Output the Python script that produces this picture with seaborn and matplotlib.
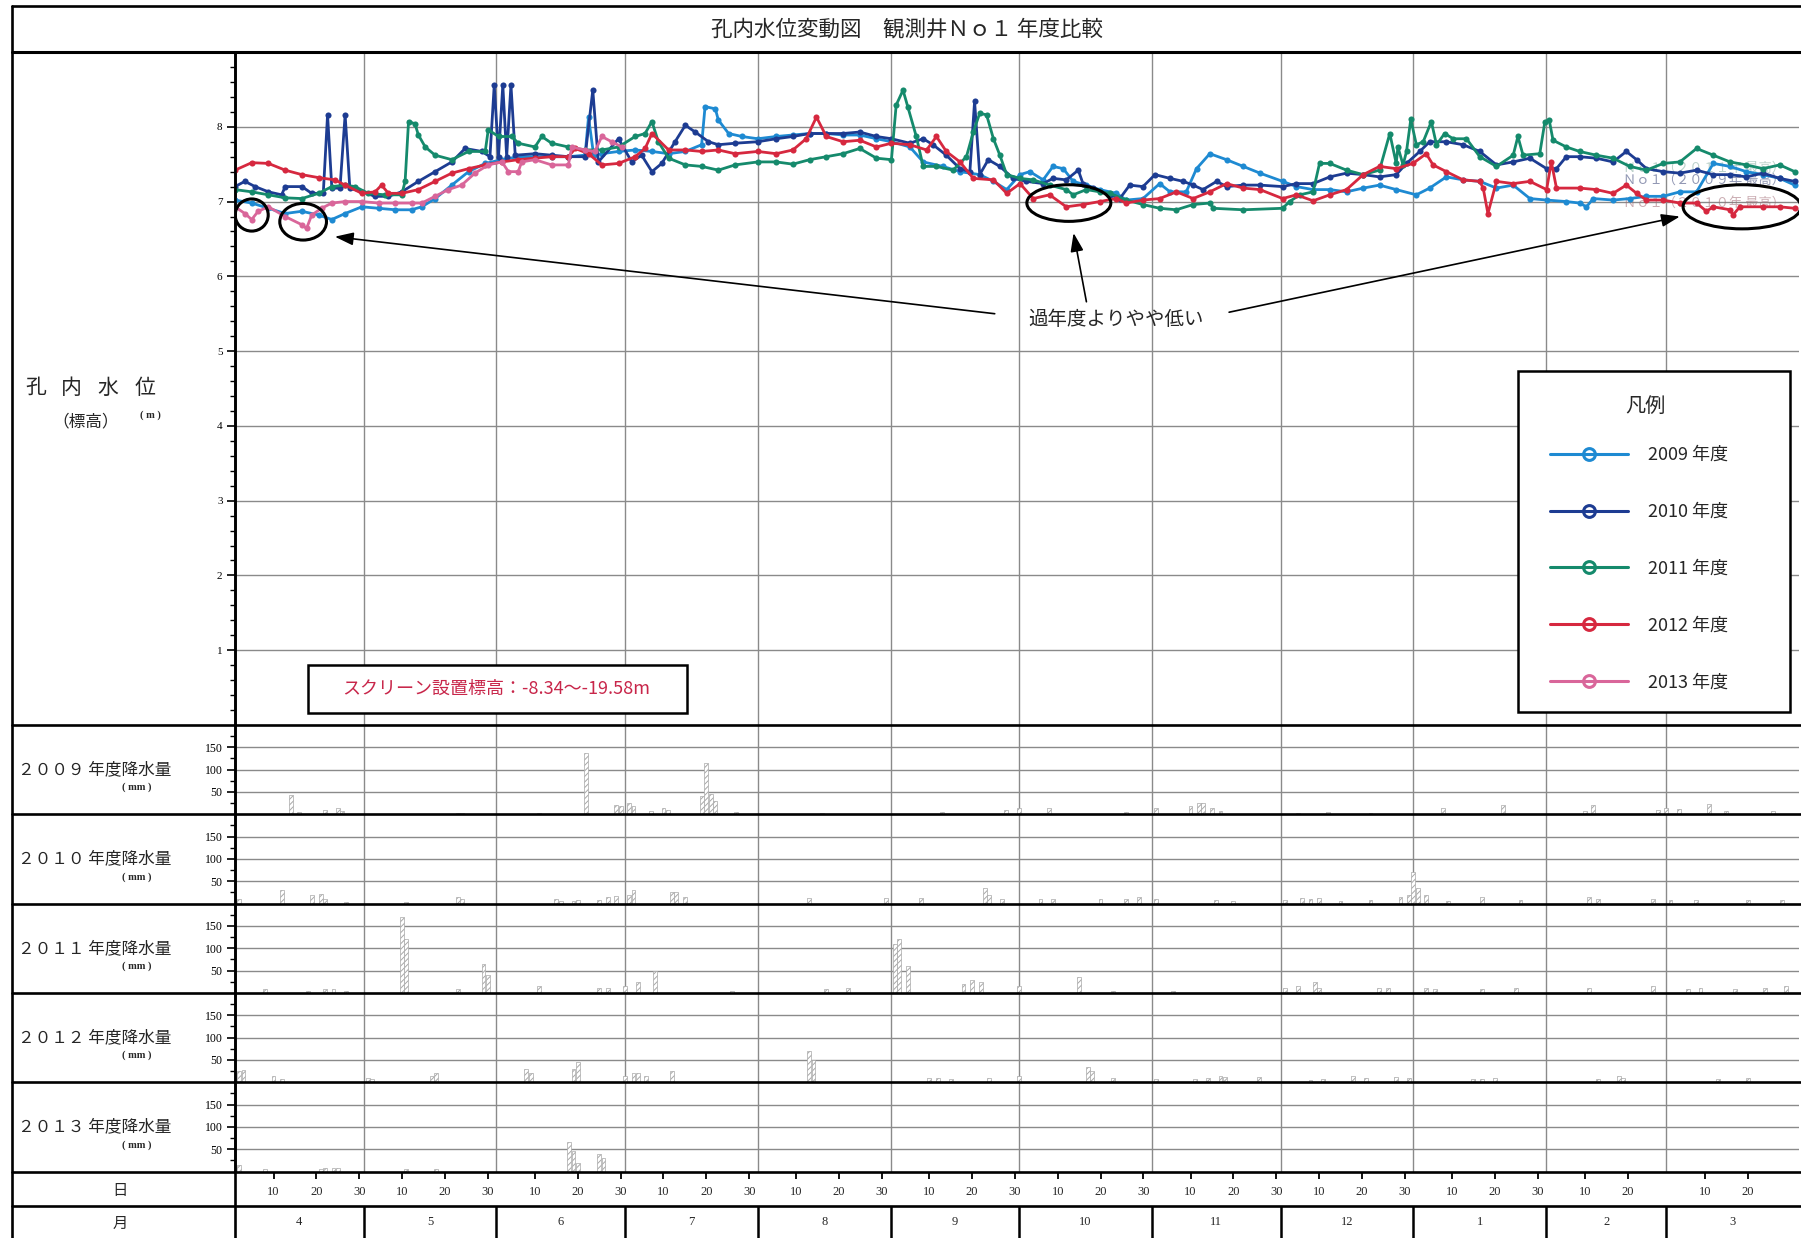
import numpy as np
import pandas as pd
import matplotlib
matplotlib.use("Agg")
import matplotlib.pyplot as plt
from matplotlib.lines import Line2D
from matplotlib.patches import Ellipse, Rectangle
import seaborn as sns

# ---------------- data ----------------
YEARS = ["2009", "2010", "2011", "2012", "2013"]
COLORS = {"2009": "#1e8ad2", "2010": "#1d3c92", "2011": "#158a6c",
          "2012": "#d6283f", "2013": "#d9669a"}

MONTH_LABELS = ["4", "5", "6", "7", "8", "9", "10", "11", "12", "1", "2", "3"]
MONTH_LENGTHS = [30, 31, 30, 31, 31, 30, 31, 30, 31, 31, 28, 31]
DAY_TICKS = [10, 20, 30]

# water level (m) : (days since Apr 1, level)
level_2009 = [
    (0, 7.02), (3.9, 6.98), (7.8, 6.91), (11.7, 6.84), (15.6, 6.87), (19.5, 6.82), (22.6, 6.76), (25.7, 6.84),
    (29.6, 6.93), (33.5, 6.91), (37.4, 6.89), (41.2, 6.89), (43.6, 6.93), (46.7, 7.04), (50.6, 7.22), (54.5, 7.40),
    (58.4, 7.51), (62.3, 7.56), (66.1, 7.60), (70, 7.60), (73.9, 7.60), (77.8, 7.60), (81.7, 7.62), (82.5, 8.13),
    (83.7, 7.62), (85.6, 7.64), (89.5, 7.67), (93.4, 7.69), (97.3, 7.67), (101.2, 7.64), (105.1, 7.67), (108.9, 7.76),
    (109.7, 8.27), (112.1, 8.24), (112.8, 8.09), (115.2, 7.91), (118.3, 7.87), (122, 7.84),
    (126.3, 7.87), (130.2, 7.89), (134.1, 7.91), (138, 7.91), (141.9, 7.89), (145.8, 7.89), (149.7, 7.84),
    (153.2, 7.80), (157.5, 7.73), (160.6, 7.53), (165.2, 7.47), (169.2, 7.40), (173.8, 7.36), (177, 7.27),
    (180.1, 7.16), (183.2, 7.36), (185.5, 7.40), (188.6, 7.29), (190.9, 7.47), (193.3, 7.44), (195.6, 7.27),
    (198.7, 7.22), (201.8, 7.16), (205.7, 7.11), (208, 7.02), (211.9, 7.04), (215.8, 7.24), (218.2, 7.13),
    (222, 7.13), (224.4, 7.44), (227.5, 7.64), (231.4, 7.56), (235.3, 7.47), (239.2, 7.38), (244.5, 7.27),
    (247.7, 7.20), (251.6, 7.16), (255.5, 7.16), (259.4, 7.13), (263.3, 7.18), (267.1, 7.22), (271, 7.16),
    (275.7, 7.09), (278.8, 7.18), (282.7, 7.33), (286.6, 7.29), (290.5, 7.27), (294.4, 7.18), (298.3, 7.22),
    (302.2, 7.04), (306.1, 7.02), (310.7, 7.00), (313.8, 6.98), (315.4, 6.93), (317, 7.04), (321.6, 7.02),
    (325.5, 7.04), (329.4, 7.07), (333.3, 7.07), (337.2, 7.13), (341.1, 7.13), (345, 7.51), (348.9, 7.47),
    (352.7, 7.40), (356.6, 7.36), (360.5, 7.31), (364, 7.22),
]
level_2010 = [
    (0, 7.20), (2.3, 7.27), (4.7, 7.20), (7.8, 7.13), (10.9, 7.09), (11.7, 7.20), (15.6, 7.20), (17.9, 7.11),
    (20.6, 7.11), (21.6, 8.16), (22.6, 7.18), (24.5, 7.18), (25.7, 8.16), (26.8, 7.18), (29.6, 7.13), (32.7, 7.07),
    (35.8, 7.07), (38.9, 7.13), (42.8, 7.27), (46.7, 7.40), (50.6, 7.53), (53.7, 7.71), (57.6, 7.67), (59.5, 7.60),
    (60.5, 8.56), (61.5, 7.60), (62.5, 8.56), (63.4, 7.60), (64.4, 8.56), (65.4, 7.62), (70, 7.64), (73.9, 7.62),
    (77.8, 7.60), (81.7, 7.60), (83.5, 8.49), (84.8, 7.53), (89.5, 7.84), (92.6, 7.53), (94.9, 7.62), (97.3, 7.40),
    (99.6, 7.51), (102.7, 7.80), (105.1, 8.02), (107.4, 7.93), (110.5, 7.80), (112.8, 7.76), (116.7, 7.78), (122, 7.80),
    (126.3, 7.84), (130.2, 7.87), (134.1, 7.91), (138, 7.91), (141.9, 7.91), (145.8, 7.93), (149.7, 7.87),
    (153.2, 7.84), (157.5, 7.78), (160.6, 7.84), (162.9, 7.76), (166, 7.62), (169.2, 7.44), (171.5, 7.40),
    (172.6, 8.34), (173.8, 7.36), (175.8, 7.56), (178.5, 7.47), (181.6, 7.31), (184.7, 7.27), (188.6, 7.24),
    (190.9, 7.31), (194, 7.29), (196.8, 7.42), (197.9, 7.24), (200.3, 7.18), (204.2, 7.09), (206.5, 7.04),
    (208.8, 7.22), (211.9, 7.20), (214.7, 7.36), (218.2, 7.31), (221.3, 7.27), (223.6, 7.22), (225.9, 7.16),
    (229.1, 7.27), (231.4, 7.20), (235.3, 7.22), (239.2, 7.22), (244.5, 7.20),
    (247.7, 7.24), (251.6, 7.24), (255.5, 7.33), (259.4, 7.38), (263.3, 7.36), (267.1, 7.33), (271, 7.36),
    (273.4, 7.51), (276.5, 7.67), (278.8, 7.80), (282.7, 7.80), (286.6, 7.76), (290.5, 7.67), (294.4, 7.49),
    (298.3, 7.53), (302.2, 7.58), (306.1, 7.44), (308.4, 7.44), (310.7, 7.60), (313.8, 7.60), (317.7, 7.58),
    (321.6, 7.53), (324.7, 7.67), (327.1, 7.56), (329.4, 7.44), (333.3, 7.40), (337.2, 7.38), (341.1, 7.42),
    (345, 7.36), (348.9, 7.36), (352.7, 7.33), (356.6, 7.38), (360.5, 7.31), (364, 7.27),
]
level_2011 = [
    (0, 7.16), (3.9, 7.13), (7.8, 7.09), (11.7, 7.05), (15.6, 7.04), (19.5, 7.11), (22.6, 7.20), (25.7, 7.22),
    (28, 7.20), (31.1, 7.11), (35, 7.09), (38.9, 7.09), (39.7, 7.27), (40.5, 8.07), (42, 8.04), (42.8, 7.89),
    (44.4, 7.73), (46.7, 7.62), (50.6, 7.56), (54.5, 7.67), (58.4, 7.67), (59.1, 7.96), (61.5, 7.87), (64.6, 7.87),
    (66.1, 7.78), (70, 7.73), (71.6, 7.87), (73.9, 7.78), (77.8, 7.73), (81.7, 7.69), (85.6, 7.69), (89.5, 7.73),
    (93.4, 7.87), (95.7, 7.91), (97.3, 8.07), (98.8, 7.80), (101.2, 7.58), (105.1, 7.49), (108.9, 7.47),
    (112.8, 7.42), (116.7, 7.49), (122, 7.53),
    (126.3, 7.53), (130.2, 7.50), (134.1, 7.56), (138, 7.60), (141.9, 7.64), (145.8, 7.71), (149.7, 7.58),
    (153.2, 7.56), (154.3, 8.29), (155.9, 8.49), (157, 8.27), (159, 7.87), (160.6, 7.47), (163.7, 7.47),
    (167.6, 7.42), (170.7, 7.60), (172.3, 7.93), (173.8, 8.18), (175.4, 8.16), (177, 7.84), (178.5, 7.62),
    (180.1, 7.36), (183.2, 7.31), (186.3, 7.29), (190.1, 7.22), (194, 7.16), (195.6, 7.09), (198.7, 7.16),
    (201.8, 7.13), (204.2, 7.11), (208, 7.02), (211.9, 6.96), (215.8, 6.91), (219.7, 6.89), (223.6, 6.96),
    (227.5, 6.98), (228.3, 6.91), (235.3, 6.89), (244.5, 6.91),
    (246.1, 7.00), (248.5, 7.09), (251.6, 7.13), (253.1, 7.51), (255.5, 7.51), (259.4, 7.42), (263.3, 7.36),
    (267.1, 7.42), (269.5, 7.91), (271, 7.51), (271.4, 7.73), (272.6, 7.49), (273.4, 7.67), (274.4, 8.10),
    (275.7, 7.76), (277.3, 7.80), (279.2, 8.07), (280.4, 7.76), (282.3, 7.91), (284.3, 7.84), (287.4, 7.84),
    (290.5, 7.60), (294.4, 7.47), (298.3, 7.62), (299.4, 7.87), (300.6, 7.62), (304.5, 7.64), (305.7, 8.07),
    (306.7, 8.09), (307.6, 7.82), (310.7, 7.73), (313.8, 7.67), (317.7, 7.62), (321.6, 7.58), (325.5, 7.47),
    (329.4, 7.42), (333.3, 7.51), (337.2, 7.53), (341.1, 7.71), (345, 7.62), (348.9, 7.53), (352.7, 7.49),
    (356.6, 7.44), (360.5, 7.49), (364, 7.40),
]
level_2012 = [
    (0, 7.42), (3.9, 7.52), (7.8, 7.51), (11.7, 7.42), (15.6, 7.36), (19.5, 7.32), (23.3, 7.29), (25.7, 7.22),
    (29.6, 7.11), (32.7, 7.13), (34.2, 7.22), (35.8, 7.11), (38.9, 7.11), (42.8, 7.16), (46.7, 7.27), (50.6, 7.38),
    (54.5, 7.44), (58.4, 7.49), (62.3, 7.53), (66.1, 7.56), (70, 7.58), (73.9, 7.60), (77.8, 7.60), (79.4, 7.71),
    (82.5, 7.64), (85.6, 7.49), (89.5, 7.51), (93.4, 7.60), (95.7, 7.71), (97.3, 7.91), (101.2, 7.69),
    (105.1, 7.69), (108.9, 7.67), (112.8, 7.69), (116.7, 7.64), (122, 7.67),
    (126.3, 7.64), (130.2, 7.69), (133.3, 7.84), (135.7, 8.13), (138, 7.87), (141.9, 7.80), (145.8, 7.82),
    (149.7, 7.73), (153.2, 7.78), (157.5, 7.76), (161.4, 7.69), (163.7, 7.87), (166, 7.67), (169.2, 7.53),
    (172.3, 7.31), (177, 7.29), (180.1, 7.11), (183.2, 7.24), (186.3, 7.04), (190.1, 7.09), (194, 6.93),
    (197.9, 6.96), (201.8, 7.00), (205.7, 7.04), (208, 6.98), (211.9, 7.02), (215.8, 7.04), (219.7, 7.13),
    (223.6, 7.04), (227.5, 7.13), (231.4, 7.24), (235.3, 7.18), (239.2, 7.16), (244.5, 7.04),
    (247.7, 7.09), (251.6, 7.01), (255.5, 7.09), (259.4, 7.16), (263.3, 7.36), (267.1, 7.47), (271, 7.44),
    (274.9, 7.51), (278, 7.64), (279.6, 7.49), (282.7, 7.40), (286.6, 7.29), (290.5, 7.27), (291.3, 7.18),
    (292.4, 6.84), (294.4, 7.27), (298.3, 7.24), (302.2, 7.27), (306.1, 7.16), (307.2, 7.53), (308.4, 7.18),
    (313.8, 7.18), (317.7, 7.16), (321.6, 7.11), (324.7, 7.22), (327.1, 7.11), (329.4, 7.02), (333.3, 7.02),
    (337.2, 6.98), (341.1, 6.98), (343.4, 6.87), (345, 6.93), (348.9, 6.89), (349.6, 6.82), (351.2, 6.93),
    (356.6, 6.93), (360.5, 6.93), (364, 6.91),
]
level_2013 = [
    (0, 6.93), (2.3, 6.84), (3.9, 6.76), (5.4, 6.87), (7.8, 6.93), (11.7, 6.80), (15.6, 6.69), (16.7, 6.64),
    (17.9, 6.82), (20.2, 6.91), (22.6, 6.98), (25.7, 7.00), (29.6, 7.00), (33.5, 6.98), (37.4, 6.98), (41.2, 6.98),
    (43.6, 6.98), (46.7, 7.07), (49.8, 7.16), (52.9, 7.22), (56, 7.38), (59.1, 7.49), (62.3, 7.53), (63.8, 7.40),
    (66.1, 7.40), (66.9, 7.53), (70, 7.56), (73.9, 7.49), (77.8, 7.49), (78.6, 7.73), (81.7, 7.69), (84, 7.67),
    (85.6, 7.87), (87.9, 7.80), (90.3, 7.73),
]
LEVELS = [level_2009, level_2010, level_2011, level_2012, level_2013]

# daily precipitation (mm)
rain_2009_day = [13, 15, 21, 24, 25, 52, 53, 71, 82, 89, 90, 92, 93, 97, 100, 101, 109, 110, 111, 112, 117, 137,
                 165, 180, 183, 190, 208, 215, 223, 225, 226, 228, 230, 248, 255, 265, 282, 296, 315, 317, 332,
                 334, 337, 344, 348, 359]
rain_2009_mm = [44, 6, 10, 15, 8, 4, 4, 4, 138, 20, 18, 25, 18, 8, 15, 10, 40, 115, 45, 30, 5, 4,
                5, 10, 15, 14, 5, 15, 18, 25, 25, 15, 8, 4, 5, 4, 14, 20, 8, 20, 10,
                14, 12, 22, 8, 8]
rain_2010_day = [1, 11, 18, 20, 21, 26, 40, 52, 53, 75, 76, 79, 80, 85, 87, 89, 92, 93, 102, 103, 105, 134, 152,
                 160, 175, 176, 179, 188, 191, 202, 208, 211, 215, 229, 233, 245, 249, 251, 253, 258, 265, 272,
                 274, 275, 276, 278, 283, 291, 300, 316, 318, 331, 335, 341, 353, 361]
rain_2010_mm = [10, 30, 20, 22, 10, 4, 4, 15, 10, 10, 6, 5, 8, 8, 15, 18, 20, 30, 25, 25, 15, 12, 12,
                12, 35, 20, 10, 10, 10, 10, 10, 15, 10, 8, 5, 8, 12, 10, 12, 5, 8, 15,
                20, 70, 35, 20, 5, 15, 8, 15, 10, 10, 8, 8, 8, 8]
rain_2011_day = [7, 17, 21, 23, 26, 39, 40, 52, 58, 59, 71, 85, 87, 91, 94, 98, 116, 138, 143, 154, 155, 157,
                 170, 172, 174, 183, 197, 205, 219, 245, 248, 252, 253, 267, 269, 278, 280, 291, 299, 316, 331,
                 339, 342, 350, 357, 362]
rain_2011_mm = [8, 5, 8, 8, 5, 170, 120, 8, 65, 40, 15, 10, 10, 15, 25, 50, 5, 8, 10, 110, 120, 60,
                20, 30, 25, 15, 35, 5, 5, 12, 15, 25, 10, 10, 12, 10, 8, 8, 10, 10, 15,
                8, 10, 8, 10, 15]
rain_2012_day = [1, 2, 9, 11, 31, 32, 46, 47, 68, 69, 79, 80, 91, 93, 94, 96, 102, 134, 135, 162, 164, 167, 176,
                 183, 199, 200, 205, 215, 224, 227, 230, 231, 239, 251, 254, 261, 264, 271, 274, 289, 291, 294,
                 318, 323, 324, 346, 353]
rain_2012_mm = [25, 28, 15, 8, 10, 8, 15, 20, 30, 20, 30, 45, 15, 20, 20, 15, 25, 70, 50, 10, 10, 8, 10,
                15, 35, 25, 10, 8, 8, 10, 15, 12, 12, 5, 8, 15, 10, 12, 10, 8, 8, 10,
                8, 15, 10, 8, 10]
rain_2013_day = [1, 7, 20, 21, 23, 24, 40, 47, 78, 79, 80, 85, 86]
rain_2013_mm = [15, 5, 5, 8, 8, 8, 5, 5, 65, 45, 20, 40, 30]
RAIN = [(rain_2009_day, rain_2009_mm), (rain_2010_day, rain_2010_mm), (rain_2011_day, rain_2011_mm),
        (rain_2012_day, rain_2012_mm), (rain_2013_day, rain_2013_mm)]
RAIN_LABELS = ["２００９ 年度降水量", "２０１０ 年度降水量", "２０１１ 年度降水量",
               "２０１２ 年度降水量", "２０１３ 年度降水量"]

TITLE = "孔内水位変動図　観測井Ｎｏ１ 年度比較"
SCREEN_NOTE = "スクリーン設置標高：-8.34～-19.58m"
REMARK = "過年度よりやや低い"

# ---------------- style ----------------
sns.set_style("white")
plt.rcParams["font.family"] = ["Noto Sans CJK JP", "DejaVu Sans"]
plt.rcParams["hatch.linewidth"] = 0.7
SERIF = "Liberation Serif"
GRID = "#8a8a8a"

W, H = 1801, 1238
fig = plt.figure(figsize=(W / 100, H / 100), dpi=100)
fig.patch.set_facecolor("white")


def fx(px):
    return px / W


def fy(py):
    return 1 - py / H


def rect(x0, y0, x1, y1):
    return [fx(x0), fy(y1), (x1 - x0) / W, (y1 - y0) / H]


X0, X1 = 235, 1799
TOP, MAIN_BOTTOM = 52, 725
RAIN_EDGES = [725, 814.3, 903.6, 992.9, 1082.2, 1171.5]
DAYROW = (1171.5, 1206)
MONTHROW = (1206, 1240)
NDAYS = sum(MONTH_LENGTHS)
month_starts = np.concatenate([[0], np.cumsum(MONTH_LENGTHS)[:-1]])

# ---------------- water level panel ----------------
ax = fig.add_axes(rect(X0, TOP, X1, MAIN_BOTTOM))
long = pd.concat([pd.DataFrame(lv, columns=["day", "level"]).assign(year=yr)
                  for yr, lv in zip(YEARS, LEVELS)], ignore_index=True)
sns.lineplot(data=long, x="day", y="level", hue="year", hue_order=YEARS, palette=COLORS,
             estimator=None, sort=False, marker="o", markersize=4.4, markeredgewidth=0,
             linewidth=2.0, legend=False, ax=ax, zorder=3)
ax.set_xlim(0, NDAYS)
ax.set_ylim(0, 9)
ax.set_xlabel("")
ax.set_ylabel("")
ax.set_xticks([])
ax.set_yticks(range(1, 9))
ax.set_yticks([v for v in np.round(np.arange(0.2, 9.0, 0.2), 1) if abs(v - round(v)) > 1e-6], minor=True)
ax.tick_params(axis="y", which="major", left=True, direction="out", length=6, width=1.2,
               labelsize=8, pad=3, colors="black")
ax.tick_params(axis="y", which="minor", left=True, direction="out", length=3.5, width=1.0, colors="black")
for lab in ax.get_yticklabels():
    lab.set_fontfamily(SERIF)
for v in range(1, 9):
    ax.axhline(v, color=GRID, lw=1.0, zorder=0)
for m in month_starts[1:]:
    ax.axvline(m, color=GRID, lw=1.0, zorder=0)
for s in ["top", "right", "bottom"]:
    ax.spines[s].set_visible(False)
ax.spines["left"].set_color("black")
ax.spines["left"].set_linewidth(1.8)

# faint station labels behind the traces
ax.text(323.9, 7.45, "Ｎｏ１（２０１１年 最高）", fontsize=9.5, color="#6c9a8c", alpha=0.45,
        va="center", ha="left", zorder=1)
ax.text(323.9, 7.29, "Ｎｏ１（２００９年 最高）", fontsize=9.5, color="#4a5482", alpha=0.6,
        va="center", ha="left", zorder=1)
ax.text(323.9, 6.98, "Ｎｏ１（２０１０年 最高）", fontsize=9.5, color="#a06a74", alpha=0.55,
        va="center", ha="left", zorder=1)

# highlighted low-level spots
for cx, cy, w, h in [(3.9, 6.82, 7.7, 0.43), (15.9, 6.73, 10.9, 0.49),
                     (194.6, 6.98, 19.6, 0.49), (351.7, 6.93, 27.5, 0.59)]:
    ax.add_patch(Ellipse((cx, cy), w, h, fill=False, edgecolor="black", lw=2.2, zorder=8))

arrow_kw = dict(arrowstyle="-|>,head_length=0.8,head_width=0.28", color="black", lw=1.2,
                shrinkA=0, shrinkB=0, mutation_scale=14)
ax.annotate("", xy=(23.3, 6.53), xytext=(177.3, 5.50), arrowprops=arrow_kw, zorder=8)
ax.annotate("", xy=(195.7, 6.58), xytext=(198.7, 5.66), arrowprops=arrow_kw, zorder=8)
ax.annotate("", xy=(337.2, 6.80), xytext=(232.0, 5.52), arrowprops=arrow_kw, zorder=8)
ax.text(205.6, 5.42, REMARK, fontsize=14, ha="center", va="center", zorder=8)

# screen elevation note
ax.add_patch(Rectangle((fx(308.3), fy(713.3)), (686.7 - 308.3) / W, (713.3 - 665) / H,
                       transform=fig.transFigure, facecolor="white", edgecolor="black",
                       lw=1.8, zorder=6, clip_on=False))
ax.text(fx(496), fy(689), SCREEN_NOTE, transform=fig.transFigure, fontsize=13,
        color="#c8264a", ha="center", va="center", zorder=7)

# legend
ax.add_patch(Rectangle((fx(1518.3), fy(711.7)), (1790 - 1518.3) / W, (711.7 - 370.7) / H,
                       transform=fig.transFigure, facecolor="white", edgecolor="black",
                       lw=1.8, zorder=6, clip_on=False))
ax.text(fx(1645), fy(406), "凡例", transform=fig.transFigure, fontsize=14.5,
        ha="center", va="center", zorder=7)
handles = [Line2D([], [], color=COLORS[yr], lw=2.2, marker="o", markersize=8.5,
                  markerfacecolor="none", markeredgewidth=2.2) for yr in YEARS]
leg = ax.legend(handles, [f"{yr} 年度" for yr in YEARS], loc="upper left",
                bbox_to_anchor=(fx(1550), fy(446)), bbox_transform=fig.transFigure,
                frameon=False, fontsize=13, handlelength=4.3, handletextpad=1.1,
                labelspacing=2.15, borderpad=0, borderaxespad=0)
leg.set_zorder(7)

# ---------------- precipitation panels ----------------
for i, (days, mm) in enumerate(RAIN):
    y0, y1 = RAIN_EDGES[i], RAIN_EDGES[i + 1]
    rax = fig.add_axes(rect(X0, y0, X1, y1))
    sns.barplot(x=days, y=mm, native_scale=True, errorbar=None, width=0.9, color="white",
                saturation=1, edgecolor="#a8a8a8", linewidth=0.5, hatch="//////", ax=rax, zorder=3)
    rax.set_xlim(0, NDAYS)
    rax.set_ylim(0, 200)
    rax.set_xlabel("")
    rax.set_ylabel("")
    rax.set_xticks([])
    rax.set_yticks([50, 100, 150])
    rax.set_yticks([25, 75, 125, 175], minor=True)
    rax.tick_params(axis="y", which="major", left=True, direction="out", length=6, width=1.2,
                    labelsize=8.5, pad=3, colors="black")
    rax.tick_params(axis="y", which="minor", left=True, direction="out", length=3.5, width=1.0,
                    colors="black")
    for lab in rax.get_yticklabels():
        lab.set_fontfamily(SERIF)
    for v in (50, 100, 150):
        rax.axhline(v, color=GRID, lw=1.0, zorder=0)
    for m in month_starts[1:]:
        rax.axvline(m, color=GRID, lw=1.0, zorder=0)
    for s in ["top", "right", "bottom"]:
        rax.spines[s].set_visible(False)
    rax.spines["left"].set_color("black")
    rax.spines["left"].set_linewidth(1.8)
    yc = (y0 + y1) / 2
    fig.text(fx(95), fy(yc), RAIN_LABELS[i], fontsize=12, ha="center", va="center")
    fig.text(fx(137), fy(yc + 18), "( mm )", fontsize=7.5, family=SERIF, fontweight="bold",
             ha="center", va="center")

# ---------------- day / month rows ----------------
dax = fig.add_axes(rect(X0, DAYROW[0], X1, DAYROW[1]))
dax.set_xlim(0, NDAYS)
dax.set_ylim(0, 1)
tick_pos, tick_lab = [], []
for s, L in zip(month_starts, MONTH_LENGTHS):
    for k in DAY_TICKS:
        p = s + k - 1
        if k <= L and p <= NDAYS - 4:
            tick_pos.append(p)
            tick_lab.append(str(k))
dax.set_xticks(tick_pos)
dax.set_yticks([])
dax.tick_params(axis="x", top=True, bottom=False, direction="in", length=5, width=1.3,
                labelbottom=False, labeltop=False, colors="black")
for p, t in zip(tick_pos, tick_lab):
    dax.text(p, 0.42, t, fontsize=9, family=SERIF, ha="center", va="center")
for s in dax.spines.values():
    s.set_visible(False)

max_ = fig.add_axes(rect(X0, MONTHROW[0], X1, MONTHROW[1]))
max_.set_xlim(0, NDAYS)
max_.set_ylim(0, 1)
max_.set_xticks([])
max_.set_yticks([])
for s, L, lab in zip(month_starts, MONTH_LENGTHS, MONTH_LABELS):
    max_.text(s + L / 2, 0.52, lab, fontsize=9, family=SERIF, ha="center", va="center")
    if s > 0:
        max_.axvline(s, color="black", lw=1.8)
for s in max_.spines.values():
    s.set_visible(False)

# ---------------- frame and left column ----------------
def hline(y, x0=11.5, x1=W, lw=1.9):
    fig.add_artist(Line2D([fx(x0), fx(x1)], [fy(y), fy(y)], color="black", lw=lw,
                          transform=fig.transFigure, zorder=10))


def vline(x, y0, y1, lw=1.9):
    fig.add_artist(Line2D([fx(x), fx(x)], [fy(y0), fy(y1)], color="black", lw=lw,
                          transform=fig.transFigure, zorder=10))


hline(6)
hline(TOP, lw=2.2)
for e in RAIN_EDGES:
    hline(e)
hline(DAYROW[1])
vline(11.5, 6, H)
vline(X0, TOP, H)

fig.text(fx(907), fy(29), TITLE, fontsize=15.5, ha="center", va="center")
for cx, ch in zip([35.5, 71.8, 108.2, 144.5], "孔内水位"):
    fig.text(fx(cx), fy(388), ch, fontsize=15, ha="center", va="center")
fig.text(fx(86), fy(422), "（標高）", fontsize=12, ha="center", va="center")
fig.text(fx(150), fy(415), "( m )", fontsize=7.5, family=SERIF, fontweight="bold",
         ha="center", va="center")
fig.text(fx(120), fy(1190), "日", fontsize=11, ha="center", va="center")
fig.text(fx(120), fy(1223), "月", fontsize=11, ha="center", va="center")

fig.savefig("out.png", dpi=100, facecolor="white")
